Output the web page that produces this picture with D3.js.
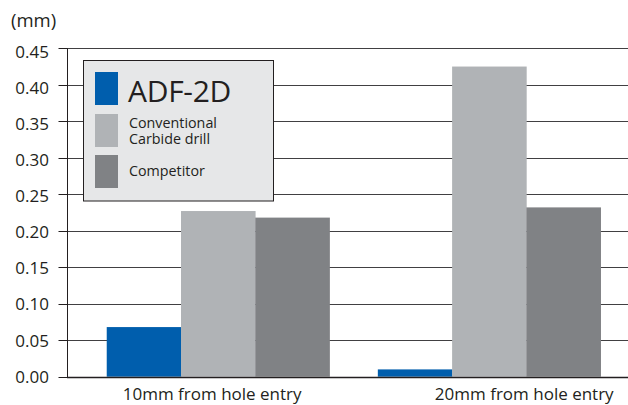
<!DOCTYPE html>
<html>
<head>
<meta charset="utf-8">
<script src="https://cdn.jsdelivr.net/npm/d3@7"></script>
<style>
  html, body { margin: 0; padding: 0; background: #fff; }
  svg { display: block; font-family: "Open Sans", "Noto Sans", sans-serif; }
</style>
</head>
<body>
<svg id="chart" width="628" height="405"></svg>
<script>
// ---- data ----
const categories = ["10mm from hole entry", "20mm from hole entry"];
const seriesNames = ["ADF-2D", "Conventional\nCarbide drill", "Competitor"];
const adf2d = [0.068, 0.010];
const conventional = [0.227, 0.425];
const competitor = [0.218, 0.232];
const yTicks = [0.00, 0.05, 0.10, 0.15, 0.20, 0.25, 0.30, 0.35, 0.40, 0.45];
const unitLabel = "(mm)";

// ---- layout ----
const colors = ["#005ead", "#b0b3b6", "#808285"];
const axisX = 67, plotRight = 628, yTop = 48.3, yBottom = 376.7;
const labelOffsets = [-6, 35];

const svg = d3.select("#chart");
const series = [adf2d, conventional, competitor];

const y = d3.scaleLinear().domain([0, 0.45]).range([yBottom, yTop]);
const yLabel = d3.scaleLinear().domain([0, 0.45]).range([yBottom, yTop + 3.5]);
const x0 = d3.scaleBand().domain(categories).range([82.6, 624.8]).paddingInner(0.178).paddingOuter(0.089);
const x1 = d3.scaleBand().domain(d3.range(series.length)).range([0, x0.bandwidth()]);

// gridlines
svg.append("g").selectAll("line").data(yTicks.filter(d => d > 0)).join("line")
  .attr("x1", axisX).attr("x2", plotRight)
  .attr("y1", d => Math.round(y(d)) + 0.5).attr("y2", d => Math.round(y(d)) + 0.5)
  .attr("stroke", "#414042").attr("stroke-width", 1);

// y axis
const yAxis = d3.axisLeft(y).tickValues(yTicks).tickFormat(d3.format(".2f")).tickSize(9).tickPadding(8);
const gy = svg.append("g").attr("transform", `translate(${axisX + 0.5},0.5)`).call(yAxis);
gy.select(".domain").attr("stroke", "#231f20").attr("d", `M0,${Math.round(y(0.45))}V${Math.round(y(0))}`);
gy.selectAll(".tick line").attr("stroke", "#231f20");
gy.selectAll(".tick").attr("transform", d => `translate(0,${Math.round(y(d))})`);
gy.selectAll(".tick text").attr("fill", "#231f20").attr("font-family", "Open Sans")
  .style("font-size", "17px")
  .attr("x", -18.5)
  .attr("y", d => yLabel(d) - Math.round(y(d)));

// bars
const groups = svg.append("g").selectAll("g").data(categories).join("g")
  .attr("transform", d => `translate(${x0(d)},0)`);
groups.selectAll("rect").data((d, i) => series.map((s, k) => ({ k, v: s[i] }))).join("rect")
  .attr("x", d => x1(d.k)).attr("width", x1.bandwidth() + 0.3)
  .attr("y", d => y(d.v)).attr("height", d => y(0) - y(d.v))
  .attr("fill", d => colors[d.k]);

// x baseline
svg.append("line").attr("x1", axisX).attr("x2", plotRight)
  .attr("y1", Math.round(y(0)) + 0.5).attr("y2", Math.round(y(0)) + 0.5)
  .attr("stroke", "#231f20").attr("stroke-width", 1.4);

// category labels
svg.append("g").selectAll("text").data(categories).join("text")
  .attr("x", (d, i) => x0(d) + x0.bandwidth() / 2 + labelOffsets[i])
  .attr("y", 400).attr("text-anchor", "middle")
  .attr("fill", "#231f20").style("font-size", "17px").text(d => d);

// unit label
svg.append("text").attr("x", 11).attr("y", 27).attr("fill", "#231f20")
  .style("font-size", "18.5px").text(unitLabel);

// legend
const lg = svg.append("g");
lg.append("rect").attr("x", 83.5).attr("y", 60.5).attr("width", 190).attr("height", 140.5)
  .attr("fill", "#e6e7e8").attr("stroke", "#231f20").attr("stroke-width", 1);
const swY = [72, 114, 155];
seriesNames.forEach((name, k) => {
  lg.append("rect").attr("x", 95).attr("y", swY[k]).attr("width", 23).attr("height", 33).attr("fill", colors[k]);
  const lines = name.split("\n");
  if (k === 0) {
    lg.append("text").attr("x", 128).attr("y", 101.5).attr("fill", "#231f20")
      .style("font-size", "30px").style("letter-spacing", "-0.3px").text(lines[0]);
  } else {
    const t = lg.append("text").attr("fill", "#231f20").style("font-size", "14.3px");
    const baseY = lines.length === 2 ? 128 : 176;
    lines.forEach((ln, j) => {
      t.append("tspan").attr("x", 129).attr("y", baseY + j * 16).text(ln);
    });
  }
});
</script>
</body>
</html>
